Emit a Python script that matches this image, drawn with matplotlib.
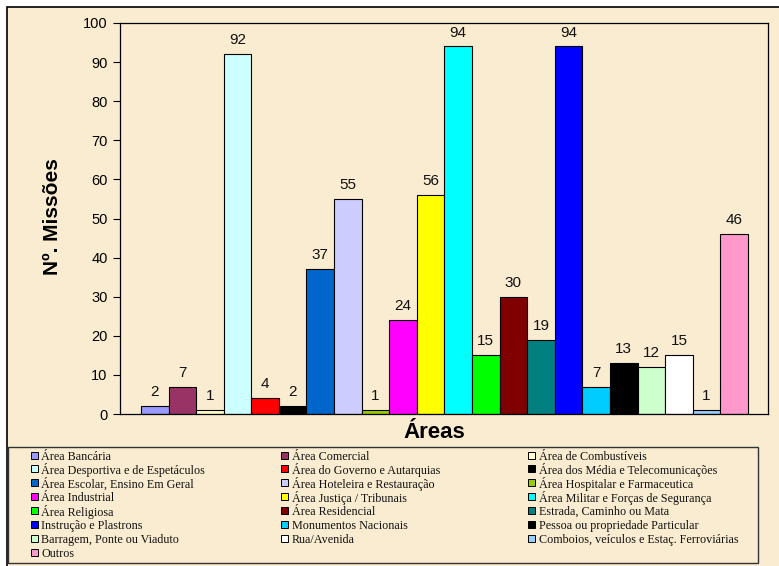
import matplotlib.pyplot as plt
from matplotlib.patches import Rectangle

# Dados do gráfico
areas = [
    "Área Bancária", "Área Comercial", "Área de Combustíveis",
    "Área Desportiva e de Espetáculos", "Área do Governo e Autarquias",
    "Área dos Média e Telecomunicações", "Área Escolar, Ensino Em Geral",
    "Área Hoteleira e Restauração", "Área Hospitalar e Farmaceutica",
    "Área Industrial", "Área Justiça / Tribunais",
    "Área Militar e Forças de Segurança", "Área Religiosa",
    "Área Residencial", "Estrada, Caminho ou Mata", "Instrução e Plastrons",
    "Monumentos Nacionais", "Pessoa ou propriedade Particular",
    "Barragem, Ponte ou Viaduto", "Rua/Avenida",
    "Comboios, veículos e Estaç. Ferroviárias", "Outros",
]
missoes = [2, 7, 1, 92, 4, 2, 37, 55, 1, 24, 56, 94, 15, 30, 19, 94, 7, 13, 12, 15, 1, 46]
cores = [
    "#9999FF", "#993366", "#FFFFCC", "#CCFFFF", "#FF0000", "#000000",
    "#0066CC", "#CCCCFF", "#99CC00", "#FF00FF", "#FFFF00", "#00FFFF",
    "#00FF00", "#800000", "#008080", "#0000FF", "#00CCFF", "#000000",
    "#CCFFCC", "#FFFFFF", "#99CCFF", "#FF99CC",
]

W, H = 779, 566
fundo = "#FAECD0"
sans = ["Liberation Sans", "DejaVu Sans"]
serif = ["Liberation Serif", "DejaVu Serif"]


def caixa(x0, y0, x1, y1, **kw):
    # rectangle in pixel coordinates (origin top-left) -> figure fraction
    return Rectangle((x0 / W, 1 - y1 / H), (x1 - x0) / W, (y1 - y0) / H,
                     transform=fig.transFigure, **kw)


fig = plt.figure(figsize=(W / 100, H / 100), dpi=100)
fig.patch.set_facecolor("white")

# outer beige frame
fig.add_artist(caixa(7, 7, W + 20, H + 20, facecolor=fundo,
                     edgecolor="black", linewidth=1.2, zorder=0))

# plot area
ax = fig.add_axes([120 / W, 1 - 414 / H, (768 - 120) / W, (414 - 23) / H])
ax.set_facecolor("none")

x = list(range(len(missoes)))
barras = ax.bar(x, missoes, width=1.0, color=cores, edgecolor="black",
                linewidth=0.8)
ax.bar_label(barras, padding=5, fontsize=11, family=sans, color="#111111")

ax.set_xlim(-1.26, len(missoes) - 0.5 + 0.73)
ax.set_ylim(0, 100)
ax.set_yticks(range(0, 101, 10))
ax.set_xticks([])
ax.tick_params(axis="y", direction="out", length=5, width=0.8, pad=4,
               labelsize=10.5)
for lbl in ax.get_yticklabels():
    lbl.set_family(sans)
for s in ax.spines.values():
    s.set_linewidth(0.9)
    s.set_color("black")

fig.text(52 / W, 1 - 217 / H, "Nº. Missões", rotation=90, fontsize=15,
         fontweight="bold", family=sans, ha="center", va="center")
fig.text(434 / W, 1 - 432 / H, "Áreas", fontsize=16, fontweight="bold",
         family=sans, ha="center", va="center")

# legend (row-major, 3 columns)
fig.add_artist(caixa(8, 447, 758, 563, facecolor="none",
                     edgecolor="#333333", linewidth=1.0))
col_marcador = [31, 281, 528]
col_texto = [41, 292, 539]
for i, (nome, cor) in enumerate(zip(areas, cores)):
    linha, col = divmod(i, 3)
    yc = 455 + 13.9 * linha
    fig.add_artist(caixa(col_marcador[col], yc - 3.5, col_marcador[col] + 7,
                         yc + 3.5, facecolor=cor, edgecolor="black",
                         linewidth=0.7))
    fig.text(col_texto[col] / W, 1 - yc / H, nome, fontsize=8.7, family=serif,
             ha="left", va="center_baseline", color="#111111")

fig.savefig("out.png", dpi=100)
